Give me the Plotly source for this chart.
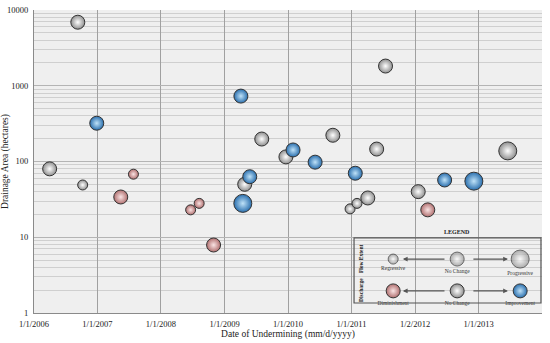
import plotly.graph_objects as go

# ---------------- data ----------------
dates = ["2006-04-01", "2006-09-10", "2006-10-08", "2006-12-28", "2007-05-15",
         "2007-07-27", "2008-06-20", "2008-08-08", "2008-10-30", "2009-04-05",
         "2009-04-16", "2009-04-27", "2009-05-26", "2009-08-03", "2009-12-20",
         "2010-01-30", "2010-06-06", "2010-09-16", "2010-12-24", "2011-01-23",
         "2011-02-02", "2011-04-05", "2011-05-26", "2011-07-16", "2012-01-20",
         "2012-03-15", "2012-06-20", "2012-12-05", "2013-06-18"]
area_ha = [80, 6900, 49, 320, 34, 68, 23, 28, 7.9, 730,
           28, 50, 63, 198, 115, 142, 98, 222, 23.7, 70,
           28, 33, 146, 1820, 40, 23, 57, 55, 138]
discharge = ["No Change", "No Change", "No Change", "Improvement", "Diminishment",
             "Diminishment", "Diminishment", "Diminishment", "Diminishment", "Improvement",
             "Improvement", "No Change", "Improvement", "No Change", "No Change",
             "Improvement", "Improvement", "No Change", "No Change", "Improvement",
             "No Change", "No Change", "No Change", "No Change", "No Change",
             "Diminishment", "Improvement", "Improvement", "No Change"]
flow_extent = ["No Change", "No Change", "Regressive", "No Change", "No Change",
               "Regressive", "Regressive", "Regressive", "No Change", "No Change",
               "Progressive", "No Change", "No Change", "No Change", "No Change",
               "No Change", "No Change", "No Change", "Regressive", "No Change",
               "Regressive", "No Change", "No Change", "No Change", "No Change",
               "No Change", "No Change", "Progressive", "Progressive"]

tick_dates = ["2006-01-01", "2007-01-01", "2008-01-01", "2009-01-01", "2010-01-01",
              "2011-01-01", "2012-01-02", "2013-01-01"]
tick_labels = ["1/1/2006", "1/1/2007", "1/1/2008", "1/1/2009", "1/1/2010",
               "1/1/2011", "1/2/2012", "1/1/2013"]
y_ticks = [1, 10, 100, 1000, 10000]

legend_flow = ["Regressive", "No Change", "Progressive"]
legend_discharge = ["Diminishment", "No Change", "Improvement"]

# ---------------- styles ----------------
SIZE = {"Regressive": 10, "No Change": 14, "Progressive": 18}
EDGE = {"Diminishment": "#b06f6f", "No Change": "#8f8f8f", "Improvement": "#2a6fae"}
CENTER = {"Diminishment": "#fae4e4", "No Change": "#ffffff", "Improvement": "#bfe2f8"}
SERIF = "Liberation Serif"

fig = go.Figure()

for cat in ["No Change", "Diminishment", "Improvement"]:
    idx = [i for i, d in enumerate(discharge) if d == cat]
    fig.add_trace(go.Scatter(
        x=[dates[i] for i in idx], y=[area_ha[i] for i in idx],
        mode="markers", name=cat, showlegend=False,
        marker=dict(size=[SIZE[flow_extent[i]] for i in idx], color=EDGE[cat],
                    gradient=dict(type="radial", color=CENTER[cat]),
                    line=dict(color="#333333", width=1), opacity=1),
        hoverinfo="x+y",
    ))

# legend pictograms (overlay axes, 0..1 within plot area)
lx = [0.707, 0.833, 0.957]
row1_y, row2_y = 0.178, 0.073
fig.add_trace(go.Scatter(
    x=lx, y=[row1_y] * 3, xaxis="x2", yaxis="y2", mode="markers+text",
    text=legend_flow, textposition="bottom center",
    textfont=dict(family=SERIF, size=5.5, color="#333"),
    marker=dict(size=[SIZE[f] for f in legend_flow], color=EDGE["No Change"],
                gradient=dict(type="radial", color=CENTER["No Change"]),
                line=dict(color="#333333", width=1)),
    showlegend=False, hoverinfo="skip"))
fig.add_trace(go.Scatter(
    x=lx, y=[row2_y] * 3, xaxis="x2", yaxis="y2", mode="markers+text",
    text=legend_discharge, textposition="bottom center",
    textfont=dict(family=SERIF, size=5.5, color="#333"),
    marker=dict(size=14, color=[EDGE[d] for d in legend_discharge],
                gradient=dict(type="radial", color=[CENTER[d] for d in legend_discharge]),
                line=dict(color="#333333", width=1)),
    showlegend=False, hoverinfo="skip"))

annos = []
for yy in (row1_y, row2_y):
    annos.append(dict(xref="x2", yref="y2", axref="x2", ayref="y2",
                      x=0.726, y=yy, ax=0.811, ay=yy, showarrow=True,
                      arrowhead=2, arrowsize=0.8, arrowwidth=1.2, arrowcolor="#555", text=""))
    annos.append(dict(xref="x2", yref="y2", axref="x2", ayref="y2",
                      x=0.933, y=yy, ax=0.862, ay=yy, showarrow=True,
                      arrowhead=2, arrowsize=0.8, arrowwidth=1.2, arrowcolor="#555", text=""))
annos.append(dict(xref="x2", yref="y2", x=0.833, y=0.268, text="<b>LEGEND</b>",
                  showarrow=False, font=dict(family=SERIF, size=6, color="#222")))
annos.append(dict(xref="x2", yref="y2", x=0.645, y=0.18, text="<b>Flow Extent</b>",
                  textangle=-90, showarrow=False, font=dict(family=SERIF, size=5.5, color="#222")))
annos.append(dict(xref="x2", yref="y2", x=0.645, y=0.075, text="<b>Discharge</b>",
                  textangle=-90, showarrow=False, font=dict(family=SERIF, size=5.5, color="#222")))

fig.update_layout(
    width=550, height=343,
    margin=dict(l=34, r=8, t=10, b=30, autoexpand=False),
    paper_bgcolor="white", plot_bgcolor="#efefef",
    font=dict(family=SERIF, size=8.5, color="#222"),
    xaxis=dict(type="date", range=["2006-01-01", "2014-01-01"],
               tickvals=tick_dates, ticktext=tick_labels, automargin=False,
               ticks="outside", ticklen=3, tickcolor="rgba(0,0,0,0)",
               showgrid=True, gridcolor="#a0a0a0", gridwidth=1,
               showline=True, linecolor="#8a8a8a", zeroline=False,
               title=dict(text="Date of Undermining (mm/d/yyyy)", standoff=0,
                          font=dict(family=SERIF, size=9.5))),
    yaxis=dict(type="log", range=[0, 4], tickvals=y_ticks, automargin=False,
               ticktext=[str(v) for v in y_ticks],
               ticks="outside", ticklen=3, tickcolor="rgba(0,0,0,0)",
               showgrid=True, gridcolor="#b4b4b4", gridwidth=1,
               minor=dict(showgrid=True, gridcolor="#cfcfcf", gridwidth=1, dtick="D1"),
               showline=True, linecolor="#8a8a8a",
               title=dict(text="Drainage Area (hectares)", standoff=2,
                          font=dict(family=SERIF, size=9.5))),
    xaxis2=dict(domain=[0, 1], range=[0, 1], anchor="y2", overlaying="x",
                visible=False, fixedrange=True),
    yaxis2=dict(domain=[0, 1], range=[0, 1], anchor="x2", overlaying="y",
                visible=False, fixedrange=True),
    annotations=annos,
    shapes=[dict(type="rect", xref="x2", yref="y2", x0=0.63, x1=0.998, y0=0.033, y1=0.248,
                 line=dict(color="#555", width=1.2), fillcolor="rgba(255,255,255,0)")],
)

fig.write_html("out.html", config={"displayModeBar": False},
               post_script="document.body.style.margin='0';document.body.style.overflow='hidden';")
